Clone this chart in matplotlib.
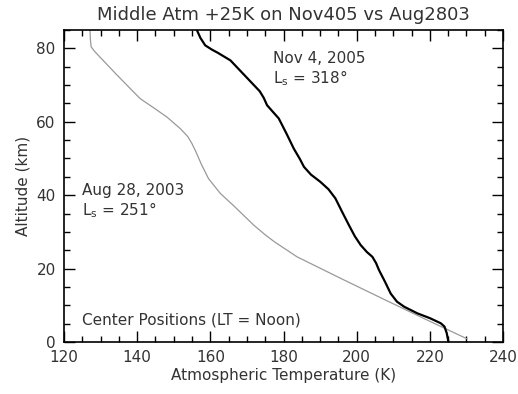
import matplotlib
matplotlib.use("Agg")
import matplotlib.pyplot as plt
from matplotlib.ticker import MultipleLocator

# Perfil Nov 4, 2005 (linea negra)
temp_nov = [156.3, 157.3, 158.6, 160.5, 162.0, 165.5, 169.5, 173.5, 174.6, 175.5,
            177.0, 178.7, 180.8, 182.8, 184.5, 185.6, 187.5, 190.1, 192.3, 194.2,
            196.0, 197.9, 199.5, 201.1, 202.8, 204.3, 205.3, 206.1, 207.8, 209.3,
            211.0, 213.0, 216.6, 220.0, 223.0, 224.0, 224.6, 225.1]
alt_nov = [85.0, 82.8, 80.8, 79.6, 78.8, 76.7, 72.5, 68.3, 66.5, 64.5,
           62.8, 60.9, 56.8, 52.7, 49.8, 47.7, 45.6, 43.6, 41.6, 39.1,
           35.5, 31.8, 28.8, 26.4, 24.5, 23.2, 21.5, 19.6, 16.3, 13.2,
           11.0, 9.6, 7.8, 6.5, 5.1, 4.2, 2.5, 0.0]

# Perfil Aug 28, 2003 (linea gris)
temp_aug = [127.1, 127.2, 127.4, 128.5, 134.5, 140.8, 144.5, 148.1, 151.8, 153.8,
            155.0, 156.2, 157.5, 159.5, 162.7, 166.5, 171.9, 175.0, 177.5, 183.7,
            195.5, 207.5, 218.8, 230.1]
alt_aug = [85.0, 82.5, 80.4, 79.0, 72.7, 66.3, 63.8, 61.3, 58.1, 56.0,
           54.0, 51.5, 48.5, 44.5, 40.5, 37.0, 31.8, 29.2, 27.3, 23.2,
           17.4, 11.6, 6.2, 0.9]

fig = plt.figure(figsize=(5.18, 3.94), dpi=100)
ax = fig.add_axes([0.1236, 0.132, 0.8474, 0.792])

ax.plot(temp_aug, alt_aug, color="#999999", linewidth=0.9)
ax.plot(temp_nov, alt_nov, color="black", linewidth=1.6)

ax.set_xlim(120, 240)
ax.set_ylim(0, 85)
ax.xaxis.set_major_locator(MultipleLocator(20))
ax.xaxis.set_minor_locator(MultipleLocator(5))
ax.yaxis.set_major_locator(MultipleLocator(20))
ax.yaxis.set_minor_locator(MultipleLocator(5))
ax.tick_params(which="both", direction="in", top=True, right=True,
               labelsize=11, labelcolor="#333333", pad=6)
ax.tick_params(which="major", length=8, width=1)
ax.tick_params(which="minor", length=4, width=1)
for s in ax.spines.values():
    s.set_linewidth(1.2)

ax.set_xlabel("Atmospheric Temperature (K)", fontsize=11, color="#333333", labelpad=2)
ax.set_ylabel("Altitude (km)", fontsize=11, color="#333333", labelpad=4)
fig.text(0.547, 0.962, "Middle Atm +25K on Nov405 vs Aug2803",
         ha="center", va="center", fontsize=13, color="#333333")

ax.text(0.477, 0.91, "Nov 4, 2005", transform=ax.transAxes, fontsize=11, color="#333333", va="center")
ax.text(0.477, 0.846, "L$_\\mathrm{s}$ = 318°", transform=ax.transAxes, fontsize=11, color="#333333", va="center")
ax.text(0.04, 0.487, "Aug 28, 2003", transform=ax.transAxes, fontsize=11, color="#333333", va="center")
ax.text(0.04, 0.423, "L$_\\mathrm{s}$ = 251°", transform=ax.transAxes, fontsize=11, color="#333333", va="center")
ax.text(0.04, 0.07, "Center Positions (LT = Noon)", transform=ax.transAxes, fontsize=11, color="#333333", va="center")

fig.savefig("out.png", dpi=100)
